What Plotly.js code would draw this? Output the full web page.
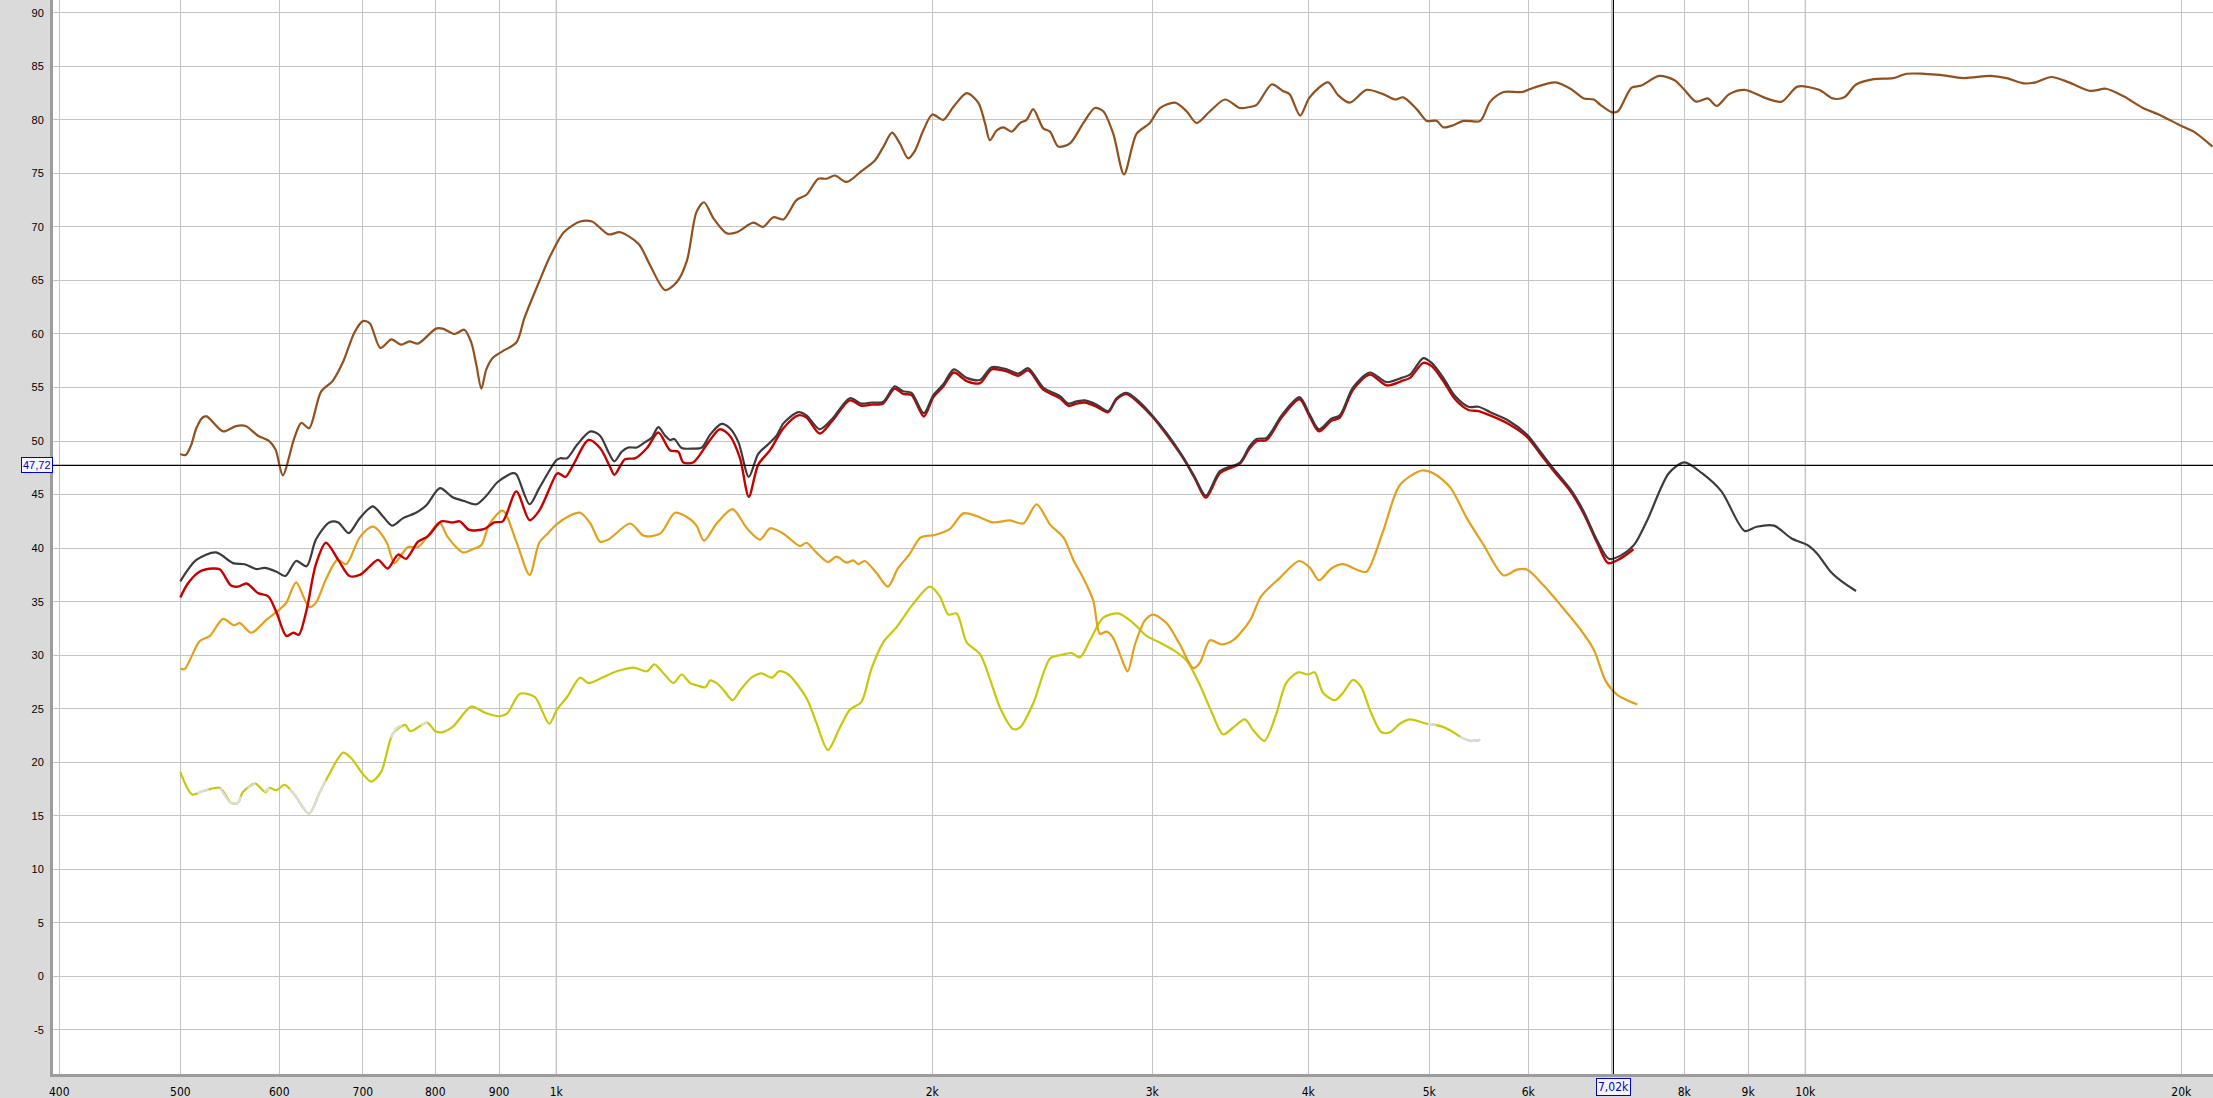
<!DOCTYPE html>
<html><head><meta charset="utf-8">
<script src="https://cdn.plot.ly/plotly-3.0.1.min.js"></script>
<style>html,body{margin:0;padding:0;background:#dadada;overflow:hidden}#chart{width:2213px;height:1098px}</style>
</head><body><div id="chart"></div>
<script>
// ---- tick labels ----
const xTickVals = [400,500,600,700,800,900,1000,2000,3000,4000,5000,6000,7000,8000,9000,10000,20000];
const xTickText = ['400','500','600','700','800','900','1k','2k','3k','4k','5k','6k','','8k','9k','10k','20k'];
const yTickVals = [-5,0,5,10,15,20,25,30,35,40,45,50,55,60,65,70,75,80,85,90];
const cursorHz = 7020, cursorDb = 47.72;
const cursorHzText = '7,02k', cursorDbText = '47,72';

// ---- series: [frequency Hz, level dB] ----
const brown = [[500,48.8],[505,48.7],[510,49.6],[515,51.2],[521,52.2],[525,52.3],[541,50.9],[554,51.4],[564,51.4],[577,50.5],[589,50.0],[596,49.2],[604,46.8],[617,50.3],[625,51.7],[634,51.2],[648,54.6],[662,55.6],[675,57.4],[689,60.1],[700,61.2],[709,61.0],[723,58.7],[738,59.5],[751,59.0],[763,59.3],[775,59.1],[801,60.5],[811,60.5],[829,60.0],[844,60.4],[855,59.2],[863,57.1],[871,54.9],[879,56.7],[890,57.8],[906,58.4],[929,59.2],[943,61.5],[969,64.9],[989,67.3],[1014,69.5],[1045,70.5],[1068,70.5],[1101,69.3],[1125,69.5],[1164,68.4],[1189,66.4],[1222,64.1],[1248,64.8],[1272,66.8],[1295,71.4],[1313,72.3],[1336,70.8],[1369,69.4],[1395,69.5],[1438,70.4],[1464,70.0],[1492,70.9],[1520,70.7],[1557,72.5],[1586,73.0],[1621,74.5],[1646,74.5],[1671,74.8],[1708,74.2],[1755,75.2],[1799,76.2],[1828,77.5],[1857,78.8],[1884,77.8],[1913,76.4],[1937,77.1],[1967,79.0],[2000,80.5],[2041,80.0],[2079,81.2],[2131,82.5],[2177,81.6],[2204,79.7],[2224,78.1],[2252,79.0],[2280,79.3],[2315,78.9],[2351,79.7],[2380,80.0],[2409,81.0],[2454,79.2],[2485,78.9],[2523,77.5],[2578,77.8],[2642,79.7],[2699,81.1],[2741,80.8],[2792,78.7],[2848,74.9],[2915,78.7],[2987,79.7],[3043,81.1],[3129,81.6],[3196,80.8],[3256,79.7],[3337,80.8],[3431,81.9],[3527,81.1],[3589,81.2],[3637,81.4],[3739,83.3],[3817,82.7],[3864,82.4],[3941,80.4],[4010,82.1],[4148,83.5],[4226,82.3],[4318,81.6],[4453,82.8],[4592,82.4],[4693,81.9],[4766,82.1],[4885,81.0],[4976,79.9],[5068,79.9],[5131,79.3],[5227,79.5],[5325,79.9],[5492,79.9],[5594,81.7],[5734,82.6],[5931,82.6],[6061,83.0],[6309,83.5],[6486,82.9],[6648,82.0],[6772,81.9],[6854,81.4],[7004,80.7],[7080,80.8],[7260,83.0],[7392,83.2],[7636,84.1],[7859,83.7],[8002,82.8],[8176,81.7],[8355,82.0],[8494,81.3],[8692,82.4],[8944,82.8],[9306,82.0],[9577,81.7],[9857,83.1],[10255,82.8],[10517,82.0],[10746,82.1],[10981,83.3],[11342,83.8],[11756,83.9],[12058,84.3],[12454,84.3],[12820,84.2],[13385,83.9],[14074,84.1],[14488,83.9],[14965,83.4],[15291,83.5],[15738,84.0],[16258,83.5],[16914,82.7],[17408,82.9],[17980,82.2],[18637,81.1],[19183,80.5],[20028,79.4],[20467,78.9],[21185,77.5]];

const dark = [[500,36.9],[515,38.9],[534,39.6],[551,38.6],[563,38.5],[575,38.05],[584,38.15],[597,37.8],[607,37.4],[619,38.8],[631,38.3],[642,40.8],[658,42.4],[669,42.4],[682,41.4],[696,42.8],[713,43.9],[726,43.0],[739,42.1],[754,42.8],[772,43.3],[787,44.0],[807,45.6],[826,44.75],[844,44.4],[863,44.1],[879,44.9],[898,46.2],[923,47.0],[929,46.9],[952,44.1],[969,45.6],[1000,48.2],[1007,48.4],[1020,48.4],[1039,49.65],[1065,50.9],[1084,50.5],[1101,48.96],[1113,48.1],[1128,49.0],[1142,49.4],[1160,49.4],[1178,49.9],[1192,50.3],[1207,51.3],[1222,50.5],[1233,50.1],[1243,50.2],[1260,49.35],[1287,49.3],[1308,49.4],[1328,50.6],[1356,51.6],[1377,51.2],[1399,49.9],[1426,46.65],[1451,48.8],[1478,49.7],[1501,50.5],[1520,51.65],[1562,52.7],[1586,52.4],[1625,51.1],[1661,52.0],[1718,54.0],[1755,53.5],[1788,53.6],[1826,53.65],[1866,55.1],[1895,54.65],[1925,54.5],[1969,52.6],[2004,54.3],[2041,55.3],[2081,56.7],[2131,55.9],[2184,55.7],[2231,56.9],[2294,56.7],[2344,56.3],[2387,56.8],[2454,55.0],[2531,54.2],[2570,53.5],[2610,53.7],[2650,53.8],[2708,53.4],[2766,52.8],[2809,54.0],[2862,54.5],[2924,53.75],[3005,52.3],[3080,50.75],[3176,48.5],[3246,46.6],[3312,44.9],[3399,47.2],[3527,48.0],[3589,49.5],[3637,50.2],[3704,50.3],[3808,52.4],[3936,54.1],[4010,52.5],[4080,51.1],[4174,52.1],[4239,52.4],[4344,55.0],[4481,56.4],[4621,55.5],[4751,55.9],[4825,56.2],[4945,57.75],[5022,57.3],[5131,55.9],[5243,54.2],[5374,53.2],[5475,53.2],[5594,52.7],[5787,51.9],[5986,50.6],[6136,49.0],[6289,47.4],[6486,45.5],[6648,43.4],[6814,40.7],[6962,39.0],[7114,39.3],[7292,40.3],[7472,42.6],[7775,47.0],[8002,48.0],[8265,47.0],[8568,45.3],[8944,41.6],[9141,42.0],[9440,42.1],[9751,40.9],[10036,40.3],[10218,39.5],[10479,37.8],[10708,36.85],[10981,36.0]];

const red = [[500,35.4],[507,36.7],[518,37.8],[531,38.1],[538,38.0],[549,36.5],[556,36.4],[565,36.7],[577,35.8],[588,35.5],[597,34.0],[608,31.8],[616,32.1],[622,31.9],[631,34.2],[642,38.5],[654,40.5],[669,38.9],[683,37.4],[696,37.5],[709,38.3],[720,38.9],[733,38.1],[747,39.4],[758,39.0],[775,40.6],[789,41.1],[809,42.5],[826,42.4],[837,42.5],[852,41.7],[876,41.8],[892,42.4],[906,42.5],[929,45.3],[952,42.6],[969,43.5],[1000,46.9],[1004,47.0],[1017,46.65],[1032,47.8],[1061,50.1],[1084,49.35],[1104,47.6],[1113,46.85],[1135,48.3],[1157,48.4],[1182,49.35],[1207,50.8],[1233,49.15],[1252,49.0],[1264,48.0],[1287,48.0],[1324,49.9],[1352,51.1],[1377,50.5],[1403,48.4],[1426,44.8],[1451,47.8],[1483,49.15],[1520,51.2],[1562,52.4],[1586,52.2],[1625,50.7],[1661,51.8],[1718,53.8],[1755,53.3],[1788,53.4],[1826,53.5],[1866,54.9],[1895,54.4],[1925,54.3],[1969,52.3],[2004,54.1],[2041,55.1],[2081,56.4],[2131,55.6],[2184,55.4],[2231,56.7],[2294,56.5],[2344,56.1],[2387,56.6],[2454,54.8],[2531,54.0],[2570,53.3],[2610,53.5],[2650,53.6],[2708,53.2],[2766,52.7],[2809,53.9],[2862,54.4],[2924,53.6],[3005,52.2],[3080,50.6],[3176,48.4],[3246,46.5],[3312,44.7],[3399,47.0],[3527,47.9],[3589,49.3],[3637,50.0],[3704,50.1],[3808,52.2],[3936,53.9],[4010,52.3],[4080,50.9],[4174,51.9],[4239,52.2],[4344,54.8],[4481,56.2],[4621,55.2],[4751,55.6],[4825,55.9],[4945,57.3],[5022,57.0],[5131,55.6],[5243,53.9],[5374,52.9],[5475,52.8],[5594,52.4],[5787,51.6],[5986,50.4],[6136,48.8],[6289,47.2],[6486,45.3],[6648,43.2],[6814,40.5],[6953,38.6],[7105,39.0],[7286,39.9]];

const orange = [[500,28.75],[504,28.7],[518,31.3],[528,31.8],[541,33.4],[552,32.8],[558,33.0],[570,32.1],[586,33.3],[602,34.4],[608,34.9],[619,36.8],[634,34.5],[642,34.9],[654,37.1],[668,38.9],[679,38.5],[696,41.0],[713,42.0],[731,40.6],[742,38.6],[754,39.6],[761,40.1],[775,40.1],[791,41.3],[806,42.4],[819,41.0],[842,39.6],[857,39.9],[871,40.3],[884,42.25],[906,43.5],[929,40.6],[952,37.5],[969,40.5],[985,41.4],[1000,42.2],[1024,43.0],[1045,43.3],[1065,42.3],[1084,40.6],[1101,40.8],[1146,42.3],[1175,41.15],[1211,41.35],[1245,43.3],[1280,42.7],[1295,42.1],[1313,40.7],[1344,42.3],[1384,43.65],[1421,41.85],[1456,40.8],[1483,41.85],[1520,41.35],[1567,40.2],[1586,40.5],[1615,39.6],[1650,38.7],[1676,39.2],[1708,38.65],[1729,38.85],[1745,38.5],[1766,38.8],[1804,37.7],[1843,36.4],[1877,38.1],[1917,39.4],[1958,41.0],[2012,41.25],[2066,41.8],[2118,43.25],[2170,43.0],[2238,42.4],[2308,42.6],[2365,42.3],[2424,44.1],[2485,42.2],[2547,41.0],[2594,38.9],[2642,37.2],[2691,35.1],[2724,32.0],[2758,32.2],[2792,31.6],[2835,29.7],[2867,28.5],[2906,31.0],[2960,33.25],[3005,33.8],[3080,33.0],[3157,31.0],[3236,28.8],[3276,29.3],[3337,31.4],[3409,31.0],[3483,31.4],[3593,33.25],[3667,35.5],[3794,37.2],[3932,38.8],[4010,38.2],[4080,37.0],[4174,38.1],[4265,38.5],[4371,38.0],[4453,37.8],[4592,41.6],[4736,45.9],[4930,47.25],[5037,47.0],[5195,45.7],[5358,42.8],[5526,40.3],[5734,37.45],[5877,38.0],[5986,38.0],[6174,36.5],[6367,34.7],[6607,32.4],[6772,30.5],[6920,27.6],[7071,26.3],[7202,25.8],[7337,25.4]];

const yellow = [[500,19.1],[511,17.0],[521,17.3],[538,17.6],[549,16.2],[556,16.2],[561,17.2],[574,18.0],[585,17.2],[589,17.6],[597,17.4],[606,17.9],[617,17.0],[634,15.2],[646,17.1],[656,18.6],[675,20.9],[685,20.4],[700,18.9],[711,18.2],[724,19.1],[740,22.7],[757,23.5],[764,22.9],[788,23.7],[800,22.9],[810,22.8],[826,23.3],[855,25.2],[878,24.6],[901,24.3],[914,24.6],[935,26.4],[961,26.1],[987,23.6],[1001,24.9],[1020,26.1],[1045,27.9],[1061,27.4],[1084,27.8],[1118,28.5],[1153,28.85],[1182,28.5],[1198,29.15],[1219,28.3],[1241,27.4],[1260,28.2],[1280,27.4],[1295,27.2],[1316,27.0],[1328,27.65],[1344,27.4],[1360,26.8],[1384,25.8],[1403,26.7],[1433,27.9],[1460,28.3],[1488,27.9],[1508,28.5],[1534,28.2],[1586,26.0],[1615,23.7],[1650,21.15],[1686,23.2],[1718,24.9],[1755,25.65],[1788,28.75],[1828,31.25],[1872,32.6],[1928,34.7],[1991,36.4],[2028,35.5],[2060,33.8],[2092,33.9],[2131,31.2],[2184,30.1],[2224,27.8],[2266,25.1],[2322,23.1],[2351,23.25],[2409,25.5],[2485,29.7],[2531,30.0],[2586,30.2],[2626,29.8],[2675,31.4],[2741,33.5],[2818,33.9],[2897,33.0],[2969,31.8],[3034,31.25],[3118,30.5],[3196,29.5],[3276,27.2],[3347,24.7],[3419,22.6],[3483,23.25],[3559,24.0],[3614,23.0],[3690,22.0],[3770,24.5],[3840,27.4],[3925,28.4],[3998,28.2],[4047,28.4],[4110,26.5],[4200,25.8],[4265,26.5],[4344,27.7],[4411,27.0],[4481,24.9],[4578,22.8],[4649,22.8],[4736,23.6],[4825,24.0],[4976,23.6],[5099,23.4],[5195,23.0],[5292,22.4],[5391,22.0],[5492,22.1]];

// light-grey stretches lying over the yellow-green trace (null = gap)
const greyOverlay = [[516,17.1],[521,17.3],[527,17.45],[null,null],[538,17.6],[549,16.2],[556,16.2],[559,16.8],[null,null],[566,17.6],[574,18.0],[null,null],[584,17.25],[589,17.6],[null,null],[612,17.5],[617,17.0],[634,15.2],[646,17.1],[654,18.3],[null,null],[737,22.3],[745,23.2],[752,23.45],[null,null],[779,23.45],[788,23.7],[null,null],[4990,23.6],[5060,23.5],[null,null],[5292,22.4],[5391,22.0],[5492,22.1]];

function tr(pairs, color, width){
  return {type:'scatter', mode:'lines', x:pairs.map(p=>p[0]), y:pairs.map(p=>p[1]),
    line:{color:color, width:width, shape:'spline', smoothing:0.8}, hoverinfo:'skip', connectgaps:false};
}

const data = [
  tr(yellow, '#c8c80a', 2.2),
  tr(greyOverlay, '#dcdcdc', 2.4),
  tr(orange, '#e3a01a', 2.2),
  tr(brown, '#91501d', 2.2),
  tr(red, '#c80000', 2.4),
  tr(dark, '#3f3a3c', 2.2)
];

const sansNarrow = '"Liberation Sans Narrow", "DejaVu Sans Condensed", "Liberation Sans", Arial, sans-serif';
const sans = '"Liberation Sans", Arial, sans-serif';

const layout = {
  width:2213, height:1098,
  margin:{l:53, r:0, t:0, b:24, pad:0},
  paper_bgcolor:'#dadada', plot_bgcolor:'#ffffff',
  showlegend:false, hovermode:false,
  xaxis:{type:'log', range:[2.59704, 4.32642], tickmode:'array', tickvals:xTickVals, ticktext:xTickText,
    ticks:'', showgrid:true, gridcolor:'#c4c4c4', gridwidth:1, zeroline:false,
    showline:true, linecolor:'#9c9c9c', linewidth:3, ticklabelstandoff:5,
    tickfont:{family:sansNarrow, size:12, color:'#000000'}, fixedrange:true},
  yaxis:{range:[-9.11, 91.19], tickmode:'array', tickvals:yTickVals, ticktext:yTickVals.map(String),
    ticks:'', showgrid:true, gridcolor:'#c4c4c4', gridwidth:1, zeroline:false,
    showline:true, linecolor:'#9c9c9c', linewidth:3, ticklabelstandoff:4,
    tickfont:{family:sans, size:11, color:'#000000'}, fixedrange:true},
  shapes:[
    {type:'line', xref:'x', yref:'paper', x0:1000, x1:1000, y0:0, y1:1, layer:'between', line:{color:'#8e8e8e', width:1}},
    {type:'line', xref:'x', yref:'paper', x0:10000, x1:10000, y0:0, y1:1, layer:'between', line:{color:'#8e8e8e', width:1}},
    {type:'line', xref:'x', yref:'paper', x0:cursorHz, x1:cursorHz, y0:0, y1:1, layer:'above', line:{color:'#000000', width:1.2}},
    {type:'line', xref:'paper', yref:'y', x0:0, x1:1, y0:cursorDb, y1:cursorDb, layer:'above', line:{color:'#000000', width:1.2}}
  ],
  annotations:[
    {xref:'paper', yref:'y', x:-0.0074, y:cursorDb, xanchor:'center', yanchor:'middle', text:cursorDbText, showarrow:false,
     font:{family:sans, size:11, color:'#0000c8'}, bordercolor:'#0000c8', borderwidth:1, borderpad:1, bgcolor:'#f6f6ff'},
    {xref:'x', yref:'paper', x:Math.log10(cursorHz), y:0, yshift:-13, xanchor:'center', yanchor:'middle', text:cursorHzText, showarrow:false,
     font:{family:sansNarrow, size:12, color:'#0000c8'}, bordercolor:'#0000c8', borderwidth:1, borderpad:1, bgcolor:'#f6f6ff'}
  ]
};

Plotly.newPlot('chart', data, layout, {staticPlot:true, displayModeBar:false});
</script>
</body></html>
